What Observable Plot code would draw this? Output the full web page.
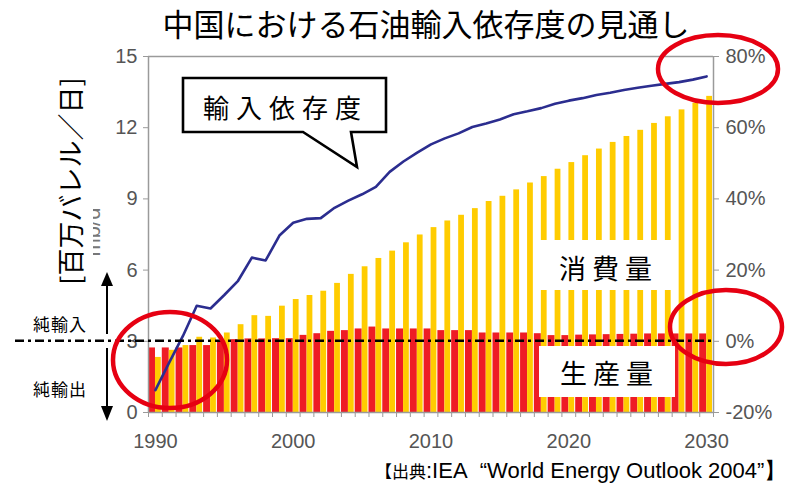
<!DOCTYPE html>
<html><head><meta charset="utf-8">
<script src="https://cdn.jsdelivr.net/npm/d3@7"></script>
<script src="https://cdn.jsdelivr.net/npm/@observablehq/plot@0.6"></script>
<style>
html,body{margin:0;padding:0;background:#fff;}
#chart{width:792px;height:485px;overflow:hidden;}
</style></head><body><div id="chart"></div>
<script>
// ---- data ----
const years = [1990,1991,1992,1993,1994,1995,1996,1997,1998,1999,
               2000,2001,2002,2003,2004,2005,2006,2007,2008,2009,
               2010,2011,2012,2013,2014,2015,2016,2017,2018,2019,
               2020,2021,2022,2023,2024,2025,2026,2027,2028,2029,2030];
// 生産量 (mb/d)
const production = [2.72,2.72,2.72,2.82,2.82,2.96,3.07,3.10,3.10,3.11,
                    3.11,3.25,3.32,3.42,3.45,3.52,3.60,3.52,3.52,3.52,
                    3.52,3.45,3.45,3.45,3.35,3.35,3.35,3.35,3.32,3.24,
                    3.24,3.26,3.27,3.28,3.29,3.30,3.31,3.31,3.31,3.31,3.31];
// 消費量 (mb/d)
const consumption = [2.32,2.62,2.82,3.17,3.14,3.35,3.70,4.08,4.05,4.48,
                     4.76,4.93,5.11,5.44,5.82,6.14,6.49,6.80,7.15,7.48,
                     7.79,8.07,8.31,8.59,8.89,9.11,9.38,9.67,9.94,10.25,
                     10.53,10.82,11.10,11.38,11.63,11.89,12.18,12.46,12.75,13.03,13.32];
// 輸入依存度 (%)
const dependency = [-13.7,-6.0,1.5,10.0,9.2,13.0,17.0,23.5,22.7,29.7,
                    33.3,34.4,34.6,37.5,39.5,41.3,43.4,47.6,50.5,53.0,
                    55.3,57.0,58.4,60.2,61.2,62.3,63.8,64.6,65.5,66.7,
                    67.6,68.3,69.2,69.8,70.6,71.2,71.8,72.3,72.8,73.5,74.4];
const leftTicks = [0,3,6,9,12,15];
const rightTickLabels = ["-20%","0%","20%","40%","60%","80%"];
const xLabelYears = [1990,2000,2010,2020,2030];
const yearEdges = years.concat([2031]);

const rows = years.map((year,i)=>({year, production: production[i], consumption: consumption[i], dependency: dependency[i]}));
// right axis: -20%..80% spans the same height as 0..15 mb/d
const pctToY = p => (p + 20) * 15 / 100;

const RED = "#ee1c25", YELLOW = "#ffcc00", NAVY = "#2b2d8f", AX = "#9a9a9a", TXT = "#555";
const tickFont = "Liberation Sans, Arial, sans-serif";

const chart = Plot.plot({
  width: 792, height: 485,
  marginLeft: 148, marginRight: 79, marginTop: 56, marginBottom: 73,
  style: {fontFamily: tickFont, background: "#fff", overflow: "visible"},
  x: {domain: [1990, 2031]},
  y: {domain: [0, 15]},
  marks: [
    Plot.rectY(rows, {x1: "year", x2: d => d.year + 1, y: "production", fill: RED, insetRight: 6.8}),
    Plot.rectY(rows, {x1: "year", x2: d => d.year + 1, y: "consumption", fill: YELLOW, insetLeft: 7, insetRight: 1}),
    Plot.ruleY([0, 15], {stroke: AX, strokeWidth: 1.5}),
    Plot.ruleX([1990, 2031], {stroke: AX, strokeWidth: 1.5}),
    Plot.line(rows, {x: d => d.year + 0.5, y: d => pctToY(d.dependency), stroke: NAVY, strokeWidth: 2.6}),
    Plot.axisY({anchor: "left", ticks: leftTicks, tickSize: 5, tickPadding: 6, fontSize: 20, stroke: AX, fill: TXT, label: null}),
    Plot.axisY({anchor: "right", ticks: leftTicks, tickFormat: (v) => rightTickLabels[leftTicks.indexOf(v)], tickSize: 5, tickPadding: 7, fontSize: 20, stroke: AX, fill: TXT, label: null}),
    Plot.axisX({ticks: yearEdges, tickFormat: () => "", tickSize: 5, stroke: AX, label: null}),
    Plot.axisX({ticks: xLabelYears.map(y => y + 0.5), tickFormat: d => String(Math.floor(d)), tickSize: 0, tickPadding: 21, fontSize: 20, fill: TXT, label: null})
  ]
});
document.getElementById("chart").append(chart);

// ---- annotations ----
const svg = d3.select(chart);
const ys = chart.scale("y");
const xs = chart.scale("x");
const y3 = ys.apply(3);
const xRight = xs.apply(2031);
const CJK = "Noto Sans CJK JP, sans-serif";

// dash-dot zero-import line
svg.append("line").attr("x1", 15).attr("x2", xRight).attr("y1", y3).attr("y2", y3)
  .attr("stroke", "#000").attr("stroke-width", 2.6).attr("stroke-dasharray", "9,4,3,4");

// white label boxes
function labelBox(x0, y0, w, h, text, tx, ty) {
  svg.append("rect").attr("x", x0).attr("y", y0).attr("width", w).attr("height", h).attr("fill", "#fff");
  svg.append("text").attr("x", tx).attr("y", ty).attr("text-anchor", "start").attr("dominant-baseline", "central")
    .attr("font-family", CJK).attr("font-size", 27).attr("letter-spacing", 6).attr("fill", "#000").text(text);
}
labelBox(540, 240, 134, 50, "消費量", 559, 267);
labelBox(539, 346, 136, 51, "生産量", 560, 372);

// callout
svg.append("path").attr("d", "M183,78 H386 V132 H351 L357,167 L303,132 H183 Z")
  .attr("fill", "#fff").attr("stroke", "#000").attr("stroke-width", 2.6).attr("stroke-linejoin", "miter");
svg.append("text").attr("x", 203).attr("y", 106).attr("text-anchor", "start").attr("dominant-baseline", "central")
  .attr("font-family", CJK).attr("font-size", 26).attr("letter-spacing", 7).attr("fill", "#000").text("輸入依存度");

// title
svg.append("text").attr("x", 426).attr("y", 22).attr("text-anchor", "middle").attr("dominant-baseline", "central")
  .attr("font-family", CJK).attr("font-size", 31).attr("fill", "#000").text("中国における石油輸入依存度の見通し");

// y axis title
svg.append("text").attr("transform", "translate(69,181) rotate(-90)").attr("text-anchor", "middle").attr("dominant-baseline", "central")
  .attr("font-family", CJK).attr("font-size", 27).attr("fill", "#000").text("[百万バレル／日]");

// faint clipped "mb/d"
svg.append("clipPath").attr("id", "mbclip").append("rect").attr("x", 93).attr("y", 190).attr("width", 12).attr("height", 80);
svg.append("g").attr("clip-path", "url(#mbclip)")
  .append("text").attr("transform", "translate(100,232) rotate(-90)")
  .attr("text-anchor", "middle").attr("font-family", tickFont).attr("font-size", 22).attr("fill", "#777").text("mb/d");

// net import / export arrow
const ax = 107;
svg.append("line").attr("x1", ax).attr("x2", ax).attr("y1", 282).attr("y2", 334).attr("stroke", "#000").attr("stroke-width", 2);
svg.append("line").attr("x1", ax).attr("x2", ax).attr("y1", 348).attr("y2", 410).attr("stroke", "#000").attr("stroke-width", 2);
svg.append("path").attr("d", `M${ax},272 L${ax-6},286 L${ax+6},286 Z`).attr("fill", "#000");
svg.append("path").attr("d", `M${ax},421 L${ax-6},406 L${ax+6},406 Z`).attr("fill", "#000");
svg.append("text").attr("x", 60).attr("y", 323).attr("text-anchor", "middle").attr("dominant-baseline", "central")
  .attr("font-family", CJK).attr("font-size", 17).attr("letter-spacing", 1).text("純輸入");
svg.append("text").attr("x", 60).attr("y", 388).attr("text-anchor", "middle").attr("dominant-baseline", "central")
  .attr("font-family", CJK).attr("font-size", 17).attr("letter-spacing", 1).text("純輸出");

// red ellipses
const ellipses = [[170,360,57,48],[718,69,60,34],[726,327,56,37]];
ellipses.forEach(([cx,cy,rx,ry]) => svg.append("ellipse").attr("cx", cx).attr("cy", cy).attr("rx", rx).attr("ry", ry)
  .attr("fill", "none").attr("stroke", "#e60012").attr("stroke-width", 4.5));

// source caption
const cap = svg.append("text").attr("x", 375).attr("y", 470).attr("text-anchor", "start").attr("dominant-baseline", "central").attr("fill", "#000");
cap.append("tspan").attr("font-family", CJK).attr("font-size", 17).text("【出典");
cap.append("tspan").attr("font-family", tickFont).attr("font-size", 22).text(":IEA\u00a0\u00a0“World Energy Outlook 2004”】");
</script></body></html>
